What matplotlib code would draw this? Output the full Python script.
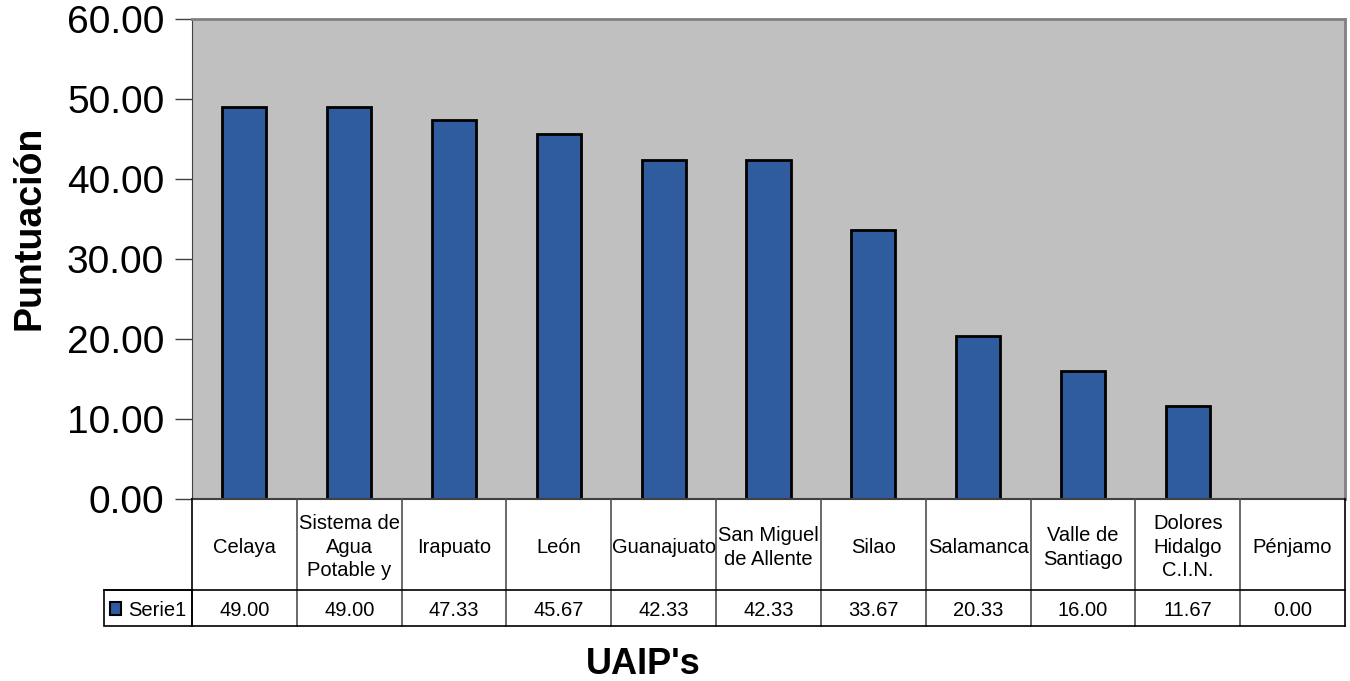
import matplotlib
matplotlib.use("Agg")
import matplotlib.pyplot as plt
from matplotlib.patches import Rectangle

plt.rcParams['font.family'] = ['Liberation Sans', 'DejaVu Sans']

# data
categories = ["Celaya", "Sistema de\nAgua\nPotable y", "Irapuato", "León", "Guanajuato",
              "San Miguel\nde Allente", "Silao", "Salamanca", "Valle de\nSantiago",
              "Dolores\nHidalgo\nC.I.N.", "Pénjamo"]
values = [49.00, 49.00, 47.33, 45.67, 42.33, 42.33, 33.67, 20.33, 16.00, 11.67, 0.00]
series_name = "Serie1"
yticks = [0, 10, 20, 30, 40, 50, 60]

BAR_COLOR = "#2E5C9E"
W, H = 1350, 681

fig = plt.figure(figsize=(W / 100, H / 100), dpi=100)

# main plot area in pixel coords
left, right, top, bottom = 192, 1345, 19, 499
ax = fig.add_axes([left / W, 1 - bottom / H, (right - left) / W, (bottom - top) / H])
ax.set_facecolor("#C0C0C0")
x = list(range(len(categories)))
ax.bar(x, values, width=0.42, color=BAR_COLOR, edgecolor="black", linewidth=2, zorder=3)
ax.set_xlim(-0.5, len(categories) - 0.5)
ax.set_ylim(0, 60)
ax.set_yticks(yticks)
ax.set_yticklabels([f"{v:.2f}" for v in yticks], fontsize=28)
ax.set_xticks([])
ax.tick_params(axis="y", length=12, width=1, color="#404040", pad=8)
for side in ["top", "right"]:
    ax.spines[side].set_color("#808080")
    ax.spines[side].set_linewidth(2)
ax.spines["left"].set_color("#404040")
ax.spines["bottom"].set_color("#404040")
ax.spines["bottom"].set_linewidth(1.5)
ax.spines["bottom"].set_zorder(4)
fig.text(30 / W, 1 - 228 / H, "Puntuación", rotation=90, ha="center", va="center",
         fontsize=27, fontweight="bold")

# data table under the plot
t_bottom = 626
tab = fig.add_axes([left / W, 1 - t_bottom / H, (right - left) / W, (t_bottom - bottom) / H])
tab.set_xlim(-0.5, len(categories) - 0.5)
tab.set_ylim(0, 1)
tab.axis("off")
split = 36 / (t_bottom - bottom)
lc = "#505050"
for i in range(len(categories) + 1):
    xb = i - 0.5
    tab.plot([xb, xb], [0, 1], color=lc if 0 < i < len(categories) else "black", lw=1.2, clip_on=False)
tab.plot([-0.5, len(categories) - 0.5], [0, 0], color="black", lw=1.2, clip_on=False)
label_w = 88 / ((right - left) / len(categories))
tab.plot([-0.5 - label_w, len(categories) - 0.5], [split, split], color="black", lw=1.2, clip_on=False)
tab.add_patch(Rectangle((-0.5 - label_w, 0), label_w, split, fill=False, edgecolor="black",
                        lw=1.2, clip_on=False))
for i, (c, v) in enumerate(zip(categories, values)):
    tab.text(i, (1 + split) / 2 - 0.02, c, ha="center", va="center", fontsize=14.5, linespacing=1.33)
    tab.text(i, split / 2 - 0.02, f"{v:.2f}", ha="center", va="center", fontsize=14.5)
# legend key in the series cell
kx = -0.5 - label_w + 0.06
tab.add_patch(Rectangle((kx, split * 0.3), 0.1, split * 0.36, facecolor=BAR_COLOR,
                        edgecolor="black", lw=1.5, clip_on=False))
tab.text(kx + 0.17, split / 2 - 0.02, series_name, ha="left", va="center", fontsize=14.5)

fig.text(643 / W, 1 - 664 / H, "UAIP's", ha="center", va="center", fontsize=26, fontweight="bold")

fig.savefig("out.png", dpi=100)
